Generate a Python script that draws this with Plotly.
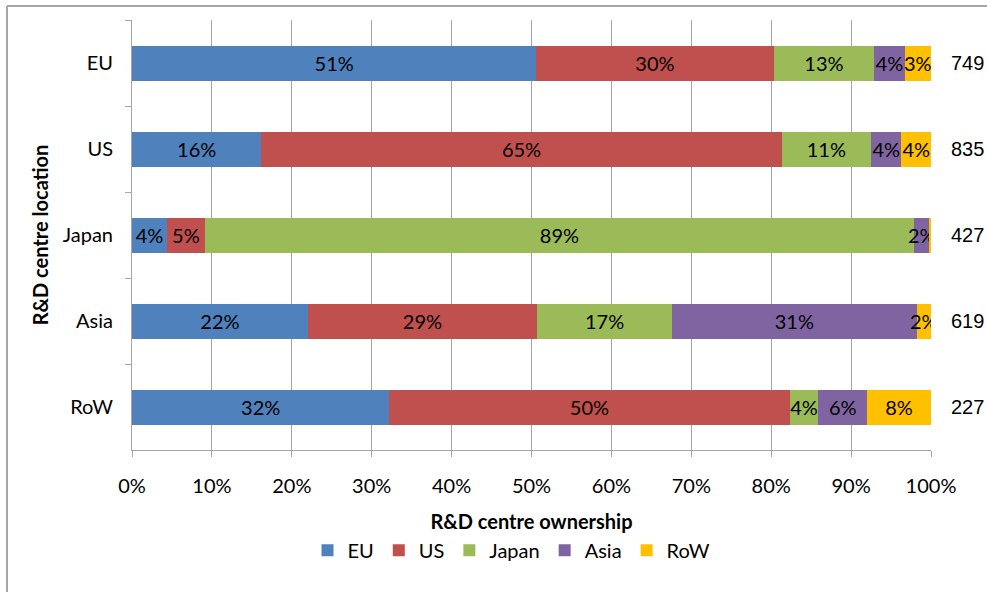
import plotly.graph_objects as go

# R&D centre location (rows) by ownership region (stacked shares, %)
locations = ["EU", "US", "Japan", "Asia", "RoW"]
owners = ["EU", "US", "Japan", "Asia", "RoW"]
share_eu = [50.6, 16.2, 4.4, 22.0, 32.2]
share_us = [29.7, 65.1, 4.7, 28.7, 50.1]
share_japan = [12.6, 11.2, 88.8, 16.9, 3.6]
share_asia = [3.8, 3.8, 1.9, 30.6, 6.1]
share_row = [3.3, 3.7, 0.2, 1.8, 8.0]
totals = [749, 835, 427, 619, 227]
x_ticks = [0, 10, 20, 30, 40, 50, 60, 70, 80, 90, 100]
x_tick_labels = [f"{t}%" for t in x_ticks]

colors = ["#4F81BD", "#C0504D", "#9BBB59", "#8064A2", "#FFC000"]
series = [share_eu, share_us, share_japan, share_asia, share_row]

W, H = 987, 592
ML, MR, MT, MB = 132, 56, 20, 142
FONT = "Lato"
FS = 20
GRID = "#A6A6A6"

fig = go.Figure()
for name, vals, col in zip(owners, series, colors):
    labels = [f"{v:.0f}%" if v >= 1 else "" for v in vals]
    fig.add_trace(go.Bar(
        name=name,
        y=locations,
        x=vals,
        orientation="h",
        marker=dict(color=col, line=dict(width=0)),
        text=labels,
        textposition="inside",
        insidetextanchor="middle",
        textangle=0,
        constraintext="none",
        textfont=dict(family=FONT, size=FS, color="#000000"),
        hoverinfo="skip",
    ))

# totals shown to the right of each bar
for loc, tot in zip(locations, totals):
    fig.add_annotation(
        x=1, xref="paper", y=loc, yref="y",
        text=str(tot), showarrow=False,
        xanchor="left", xshift=18,
        font=dict(family="Liberation Sans", size=20, color="#000000"),
    )

# chart frame (left and top edges), placed in pixels relative to the plot area
fig.add_shape(type="line", xref="paper", yref="paper",
              xsizemode="pixel", ysizemode="pixel", xanchor=0, yanchor=1,
              x0=-(ML - 7), x1=-(ML - 7), y0=MT - 6, y1=-(H + 50),
              line=dict(color=GRID, width=2))
fig.add_shape(type="line", xref="paper", yref="paper",
              xsizemode="pixel", ysizemode="pixel", xanchor=0, yanchor=1,
              x0=-(ML - 7), x1=W, y0=MT - 6, y1=MT - 6,
              line=dict(color=GRID, width=2))

fig.update_layout(
    width=W, height=H,
    margin=dict(l=ML, r=MR, t=MT, b=MB),
    barmode="stack",
    bargap=0.593,
    plot_bgcolor="#FFFFFF",
    paper_bgcolor="#FFFFFF",
    font=dict(family=FONT, size=FS, color="#000000"),
    showlegend=True,
    legend=dict(
        orientation="h", x=0.475, xanchor="center", y=-0.233, yanchor="middle",
        font=dict(family=FONT, size=FS), traceorder="normal",
        itemwidth=30,
    ),
    xaxis=dict(
        range=[0, 100],
        tickmode="array",
        tickvals=x_ticks,
        ticktext=x_tick_labels,
        showgrid=True, gridcolor=GRID, gridwidth=1,
        showline=True, linecolor=GRID, linewidth=1,
        ticks="outside", ticklen=6, tickcolor=GRID,
        ticklabelstandoff=12,
        tickfont=dict(family=FONT, size=FS),
        zeroline=False,
        title=dict(text="<b>R&D centre ownership</b>", standoff=18,
                   font=dict(family=FONT, size=FS)),
    ),
    yaxis=dict(
        categoryorder="array", categoryarray=locations,
        autorange="reversed",
        showgrid=False,
        showline=True, linecolor=GRID, linewidth=1,
        ticks="outside", ticklen=6, tickcolor=GRID,
        tickson="boundaries",
        ticklabelstandoff=14,
        tickfont=dict(family=FONT, size=FS),
        title=dict(text="<b>R&D centre location</b>", standoff=8,
                   font=dict(family=FONT, size=FS)),
    ),
)

fig.write_html("out.html")
